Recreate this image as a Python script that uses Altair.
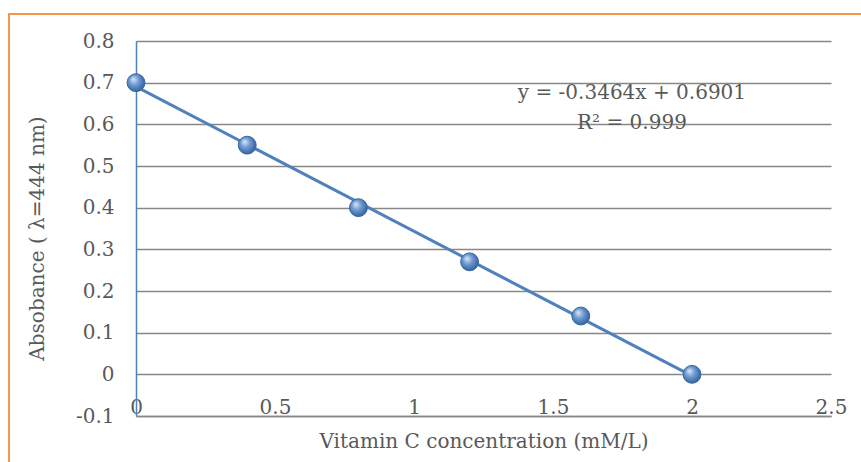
import altair as alt
import pandas as pd

conc = [0.0, 0.4, 0.8, 1.2, 1.6, 2.0]
absorb = [0.70, 0.55, 0.40, 0.27, 0.14, 0.0]
eq_text = ["y = -0.3464x + 0.6901", "R² = 0.999"]
eq_x = [1.784, 1.784]
eq_y = [0.675, 0.603]

df = pd.DataFrame({"x": conc, "y": absorb})
df_eq = pd.DataFrame({"t": eq_text, "x": eq_x, "y": eq_y})

FONT = "DejaVu Serif"
FS = 20
TXT = "#595959"
BLUE = "#4F81BD"
LBL = "datum.value < 0 ? '-' + format(-datum.value, '~g') : format(datum.value, '~g')"

xs = alt.Scale(domain=[0, 2.5], nice=False, zero=False)
ys = alt.Scale(domain=[-0.1, 0.8], nice=False, zero=False)

xaxis = alt.Axis(
    title="Vitamin C concentration (mM/L)",
    values=[0, 0.5, 1, 1.5, 2, 2.5],
    labelExpr=LBL,
    grid=False, ticks=False, tickSize=0,
    domainColor="#878787", domainWidth=1.5,
    labelBaseline="alphabetic", labelPadding=-3,
    labelFont=FONT, labelFontSize=FS, labelColor=TXT,
    titleFont=FONT, titleFontSize=FS, titleColor=TXT, titleFontWeight="normal",
    titleY=25, titleBaseline="middle", labelFlush=False,
)
yaxis = alt.Axis(
    title="Absobance ( λ=444 nm)",
    values=[-0.1, 0, 0.1, 0.2, 0.3, 0.4, 0.5, 0.6, 0.7, 0.8],
    labelExpr=LBL,
    grid=True, gridColor="#878787", gridWidth=1.5,
    ticks=False, tickSize=0,
    domainColor=BLUE, domainWidth=1.5,
    labelPadding=22,
    labelFont=FONT, labelFontSize=FS, labelColor=TXT,
    titleFont=FONT, titleFontSize=FS, titleColor=TXT, titleFontWeight="normal",
    titleX=-99, titleY=197, titleBaseline="middle", labelFlush=False,
)

border = alt.Chart(pd.DataFrame({"a": [0]})).mark_rect(
    fill=None, stroke="#F79646", strokeWidth=2, clip=False
).encode(
    x=alt.value(-127), x2=alt.value(760), y=alt.value(-27), y2=alt.value(460)
)

line = alt.Chart(df).transform_regression("x", "y", extent=[0, 2]).mark_line(
    color=BLUE, strokeWidth=3
).encode(x=alt.X("x:Q", scale=xs, axis=xaxis), y=alt.Y("y:Q", scale=ys, axis=yaxis))

grad = alt.RadialGradient(
    gradient="radial", x1=0.35, y1=0.3, r1=0, x2=0.45, y2=0.45, r2=0.6,
    stops=[
        alt.GradientStop(offset=0, color="#DCE8F7"),
        alt.GradientStop(offset=0.45, color="#6F9BD3"),
        alt.GradientStop(offset=1, color="#2E5C96"),
    ],
)
pts = alt.Chart(df).mark_point(
    filled=True, shape="circle", size=320, fill=grad, stroke="#3A679F", strokeWidth=1, opacity=1
).encode(x=alt.X("x:Q", scale=xs), y=alt.Y("y:Q", scale=ys))

eq = alt.Chart(df_eq).mark_text(font=FONT, fontSize=FS, color=TXT, align="center").encode(
    x=alt.X("x:Q", scale=xs), y=alt.Y("y:Q", scale=ys), text="t:N"
)

chart = alt.layer(border, line, pts, eq).properties(
    width=695, height=375,
    padding={"left": 136, "top": 41, "right": 30, "bottom": 46},
    autosize=alt.AutoSizeParams(type="none"),
    background="white",
).configure_view(stroke=None)

chart.save("out.html", embed_options={"renderer": "svg", "actions": False})
